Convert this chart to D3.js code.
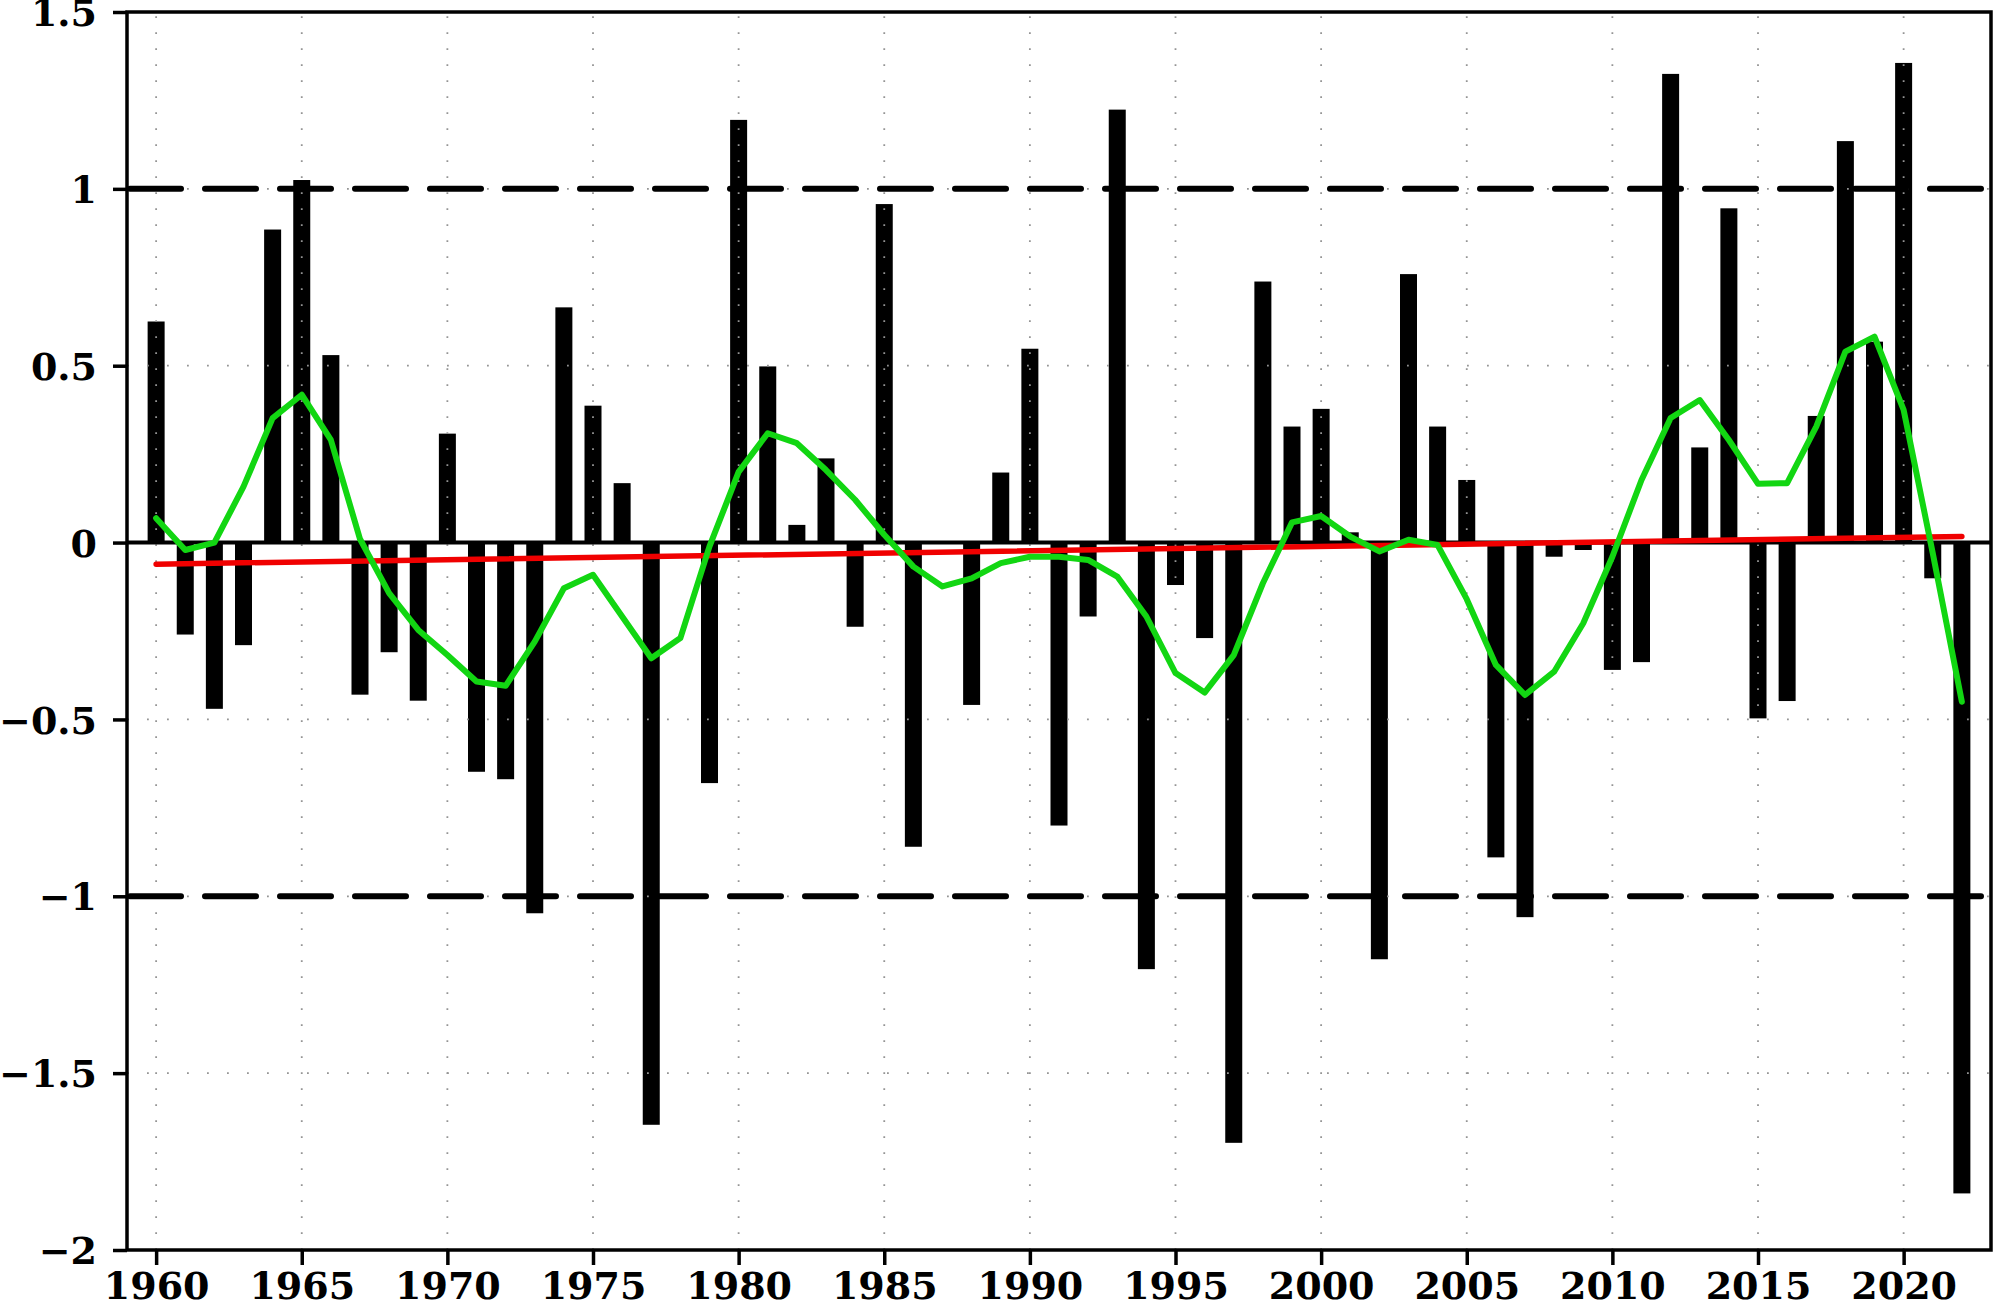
<!DOCTYPE html>
<html>
<head>
<meta charset="utf-8">
<script src="https://cdn.jsdelivr.net/npm/d3@7"></script>
<style>
  html, body { margin: 0; padding: 0; background: #ffffff; }
  svg { display: block; }
</style>
</head>
<body>
<script>
// ---------- data ----------
const years = [
  1960,1961,1962,1963,1964,1965,1966,1967,1968,1969,
  1970,1971,1972,1973,1974,1975,1976,1977,1978,1979,
  1980,1981,1982,1983,1984,1985,1986,1987,1988,1989,
  1990,1991,1992,1993,1994,1995,1996,1997,1998,1999,
  2000,2001,2002,2003,2004,2005,2006,2007,2008,2009,
  2010,2011,2012,2013,2014,2015,2016,2017,2018,2019,
  2020,2021,2022
];
const anomaly = [
  0.625,-0.26,-0.47,-0.29,0.885,1.025,0.53,-0.43,-0.31,-0.447,
  0.308,-0.648,-0.669,-1.048,0.665,0.387,0.168,-1.646,0.0,-0.68,
  1.195,0.498,0.05,0.238,-0.238,0.957,-0.86,0.0,-0.459,0.198,
  0.548,-0.80,-0.209,1.224,-1.206,-0.12,-0.27,-1.697,0.738,0.328,
  0.378,0.029,-1.178,0.759,0.328,0.177,-0.89,-1.059,-0.04,-0.021,
  -0.36,-0.338,1.325,0.269,0.945,-0.497,-0.448,0.358,1.135,0.568,
  1.356,-0.101,-1.84
];
const smoothed = [
  0.069,-0.021,0.0,0.158,0.352,0.418,0.29,0.01,-0.143,-0.247,
  -0.318,-0.393,-0.405,-0.28,-0.129,-0.091,-0.209,-0.327,-0.27,-0.011,
  0.20,0.309,0.281,0.205,0.121,0.022,-0.068,-0.124,-0.101,-0.058,
  -0.040,-0.040,-0.049,-0.096,-0.209,-0.369,-0.424,-0.318,-0.115,0.057,
  0.075,0.017,-0.025,0.008,-0.007,-0.16,-0.346,-0.431,-0.365,-0.228,
  -0.04,0.177,0.352,0.403,0.29,0.166,0.168,0.328,0.54,0.582,
  0.375,-0.03,-0.45
];
const trendYears = [1960, 2022];
const trendValues = [-0.061, 0.017];
const thresholds = [1, -1];
const yTicks = [-2, -1.5, -1, -0.5, 0, 0.5, 1, 1.5];
const yTickLabels = ["\u22122", "\u22121.5", "\u22121", "\u22120.5", "0", "0.5", "1", "1.5"];
const xTicks = [1960, 1965, 1970, 1975, 1980, 1985, 1990, 1995, 2000, 2005, 2010, 2015, 2020];
const xTickLabels = ["1960","1965","1970","1975","1980","1985","1990","1995","2000","2005","2010","2015","2020"];

// ---------- layout ----------
const W = 2000, H = 1302;
const L = 127, R = 1991, T = 12, B = 1250;
const FONT = "'DejaVu Serif', 'Liberation Serif', serif";

const svg = d3.select("body").append("svg")
  .attr("width", W).attr("height", H)
  .style("background", "#fff");

const x = d3.scaleLinear().domain([1959, 2023]).range([L, R]);
const y = d3.scaleLinear().domain([-2, 1.5]).range([B, T]);

const barW = 17;

// bars
svg.append("g").selectAll("rect")
  .data(years.map((yr, i) => ({ yr, v: anomaly[i] })))
  .join("rect")
  .attr("x", d => x(d.yr) - barW / 2)
  .attr("width", barW)
  .attr("y", d => Math.min(y(d.v), y(0)))
  .attr("height", d => Math.abs(y(d.v) - y(0)))
  .attr("fill", "#000");

// dotted grid (drawn above bars)
const grid = svg.append("g");
grid.selectAll("line.v").data(xTicks).join("line")
  .attr("x1", d => x(d)).attr("x2", d => x(d))
  .attr("y1", B).attr("y2", T)
  .attr("stroke", "#949494").attr("stroke-width", 1.8)
  .attr("stroke-dasharray", "1.8,14.2");
grid.selectAll("line.h").data(yTicks).join("line")
  .attr("x1", L).attr("x2", R)
  .attr("y1", d => y(d)).attr("y2", d => y(d))
  .attr("stroke", "#949494").attr("stroke-width", 1.8)
  .attr("stroke-dasharray", "1.8,18.2")
  .attr("stroke-dashoffset", -20);

// threshold dashed lines
svg.append("g").selectAll("line").data(thresholds).join("line")
  .attr("x1", L + 3).attr("x2", R)
  .attr("y1", d => y(d)).attr("y2", d => y(d))
  .attr("stroke", "#000").attr("stroke-width", 6)
  .attr("stroke-linecap", "round")
  .attr("stroke-dasharray", "51,24");

// zero line
svg.append("line")
  .attr("x1", L).attr("x2", R)
  .attr("y1", y(0)).attr("y2", y(0))
  .attr("stroke", "#000").attr("stroke-width", 4);

// trend line
const trendData = trendYears.map((yr, i) => [yr, trendValues[i]]);
svg.append("path")
  .datum(trendData)
  .attr("d", d3.line().x(d => x(d[0])).y(d => y(d[1])))
  .attr("fill", "none")
  .attr("stroke", "#f00000")
  .attr("stroke-width", 5.5)
  .attr("stroke-linecap", "round");

// smoothed line
svg.append("path")
  .datum(years.map((yr, i) => [yr, smoothed[i]]))
  .attr("d", d3.line().x(d => x(d[0])).y(d => y(d[1])))
  .attr("fill", "none")
  .attr("stroke", "#12d612")
  .attr("stroke-width", 6)
  .attr("stroke-linejoin", "round")
  .attr("stroke-linecap", "round");

// frame
svg.append("rect")
  .attr("x", L).attr("y", T)
  .attr("width", R - L).attr("height", B - T)
  .attr("fill", "none").attr("stroke", "#000").attr("stroke-width", 3.5);

// axes
const yAxis = d3.axisLeft(y)
  .tickValues(yTicks)
  .tickSize(14)
  .tickPadding(16)
  .tickFormat((d, i) => yTickLabels[i]);
const gy = svg.append("g").attr("transform", `translate(${L},0)`).call(yAxis);
gy.select(".domain").remove();
gy.selectAll(".tick line").attr("stroke", "#000").attr("stroke-width", 3.5);
gy.selectAll(".tick text")
  .attr("font-family", FONT).attr("font-weight", "bold")
  .attr("font-size", 38).attr("fill", "#000")
  .attr("dy", "0.36em");

const xAxis = d3.axisBottom(x)
  .tickValues(xTicks)
  .tickSize(15)
  .tickFormat((d, i) => xTickLabels[i]);
const gx = svg.append("g").attr("transform", `translate(0,${B})`).call(xAxis);
gx.select(".domain").remove();
gx.selectAll(".tick line").attr("stroke", "#000").attr("stroke-width", 3.5);
gx.selectAll(".tick text")
  .attr("font-family", FONT).attr("font-weight", "bold")
  .attr("font-size", 38).attr("fill", "#000")
  .attr("y", 49).attr("dy", 0);
</script>
</body>
</html>
